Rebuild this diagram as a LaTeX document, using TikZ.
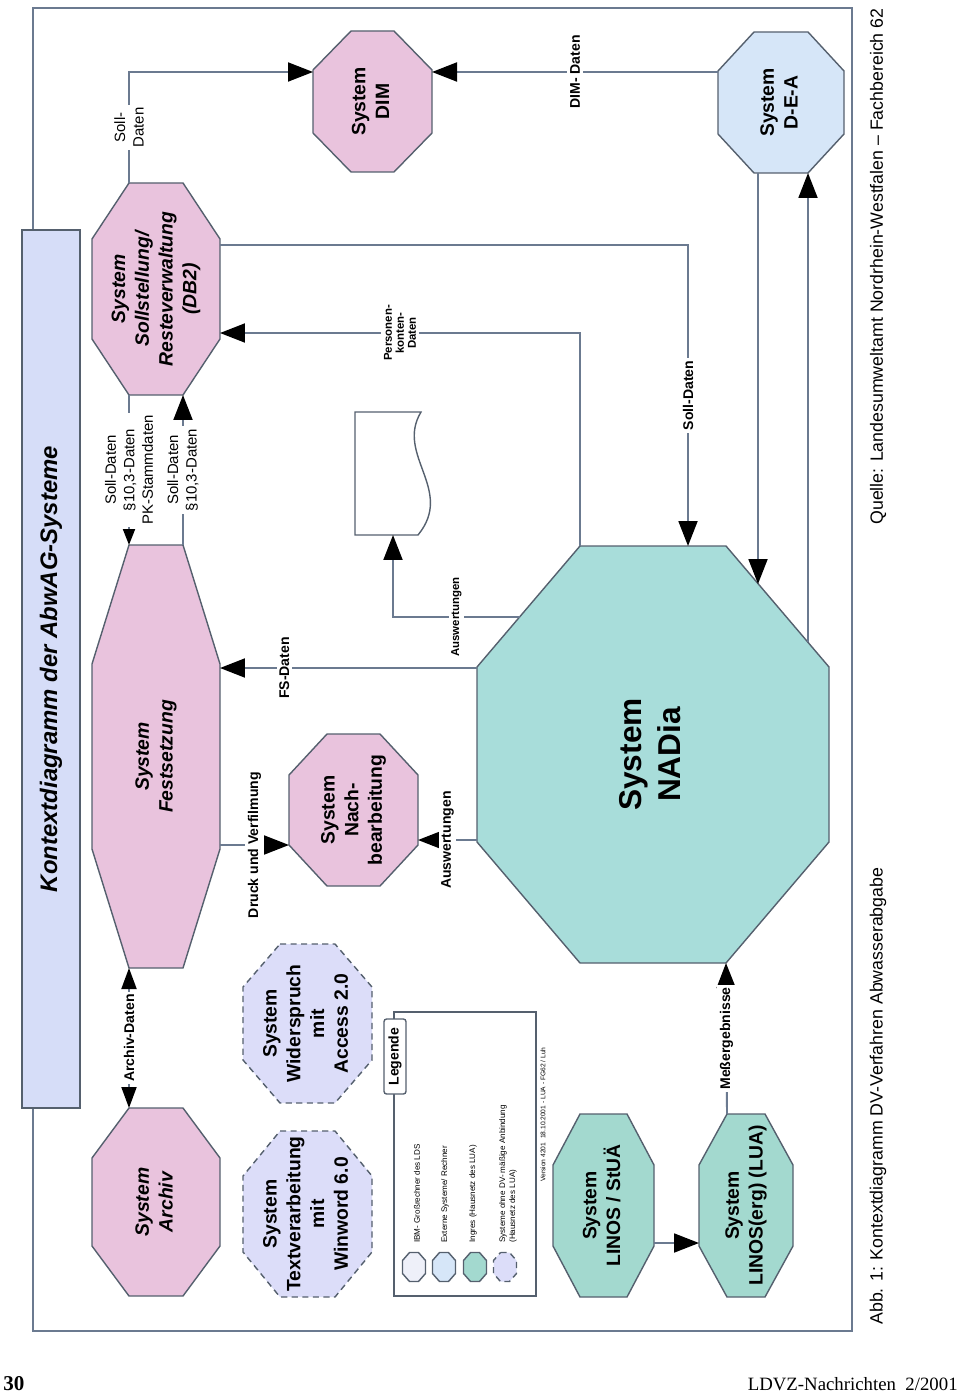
\documentclass[tikz,border=0pt]{standalone}
\usepackage{fontspec}
\setmainfont{Liberation Sans}
\newfontfamily\pageserif{Liberation Serif}
\usetikzlibrary{arrows.meta,backgrounds}

\definecolor{linec}{HTML}{6B7A90}
\definecolor{edgec}{HTML}{55606E}
\definecolor{pinkc}{HTML}{E9C3DD}
\definecolor{tealc}{HTML}{A8DDDA}
\definecolor{linosc}{HTML}{A3D9CF}
\definecolor{bluec}{HTML}{D6E6F8}
\definecolor{lilac}{HTML}{DCDDF9}
\definecolor{titlec}{HTML}{D6DDF8}
\definecolor{ibmc}{HTML}{EEF0F9}

\newcommand{\pxu}{0.02cm}
\newcommand{\sysname}[1]{\rotatebox{90}{\begin{tabular}{@{}c@{}}#1\end{tabular}}}
% octagon round a named area: node, chamfer x, chamfer y
\newcommand{\octa}[4][]{%
  \draw[#1] ([shift={(#3,0)}]#2.north west) -- ([shift={(-#3,0)}]#2.north east)
    -- ([shift={(0,#4)}]#2.north east) -- ([shift={(0,-#4)}]#2.south east)
    -- ([shift={(-#3,0)}]#2.south east) -- ([shift={(#3,0)}]#2.south west)
    -- ([shift={(0,-#4)}]#2.south west) -- ([shift={(0,#4)}]#2.north west) -- cycle;}

\tikzset{
  sysarea/.style 2 args={rectangle, inner sep=0pt, outer sep=0pt,
    minimum width=#1*\pxu, minimum height=#2*\pxu},
  sysfont/.style={font=\fontsize{11}{13.5}\selectfont\bfseries},
  sysit/.style={font=\fontsize{11}{13.5}\selectfont\bfseries\itshape},
  pinkfill/.style={fill=pinkc, draw=edgec, line width=0.8pt},
  tealfill/.style={fill=tealc, draw=edgec, line width=0.8pt},
  linosfill/.style={fill=linosc, draw=edgec, line width=0.8pt},
  bluefill/.style={fill=bluec, draw=edgec, line width=0.8pt},
  ibmfill/.style={fill=ibmc, draw=edgec, line width=0.8pt},
  lilacfill/.style={fill=lilac, draw=edgec, line width=0.8pt, dash pattern=on 3.5pt off 2.5pt},
  flow/.style={draw=linec, line width=1.1pt, -{Triangle[length=0.5cm, width=0.38cm, color=black]}},
  flowsmall/.style={draw=linec, line width=1.1pt, -{Triangle[length=0.32cm, width=0.24cm, color=black]}},
  flowboth/.style={draw=linec, line width=1.1pt,
    {Triangle[length=0.42cm, width=0.3cm, color=black]}-{Triangle[length=0.42cm, width=0.3cm, color=black]}},
  lbl/.style={fill=white, rotate=90, inner sep=1.5pt, align=center, font=\fontsize{8}{10}\selectfont\bfseries},
  lblthin/.style={lbl, font=\fontsize{8.5}{10.5}\selectfont},
  lblsmall/.style={lbl, font=\fontsize{6.5}{6.8}\selectfont\bfseries},
  legtxt/.style={rotate=90, anchor=west, inner sep=0pt, align=left, font=\fontsize{4.6}{5.6}\selectfont},
  caption/.style={rotate=90, anchor=west, inner sep=0pt, font=\fontsize{10.1}{12}\selectfont},
}

\begin{document}
\begin{tikzpicture}[x=0.02cm, y=-0.02cm]
\useasboundingbox (0,0) rectangle (960,1395);

% title bar
\node[sysarea={58}{878}, fill=titlec, draw=edgec, line width=0.8pt,
  font=\fontsize{13.6}{16}\selectfont\bfseries\itshape] (title) at (51,669)
  {\rotatebox{90}{Kontextdiagramm der AbwAG-Systeme}};

% systems
\node[sysarea={119}{141}, sysfont] (dim) at (372.5,101.5) {\sysname{System\\DIM}};
\node[sysarea={126}{141}, sysfont] (dea) at (781,102.5) {\sysname{System\\D-E-A}};
\node[sysarea={128}{212}, sysit] (db2) at (156,289) {\sysname{System\\Sollstellung/\\Resteverwaltung\\(DB2)}};
\node[sysarea={128}{423}, sysit] (fest) at (156,756.5) {\sysname{System\\Festsetzung}};
\node[sysarea={128}{188}, sysit] (archiv) at (156,1202) {\sysname{System\\Archiv}};
\node[sysarea={129}{152}, sysfont] (nach) at (353.5,810) {\sysname{System\\Nach-\\bearbeitung}};
\node[sysarea={129}{159}, sysfont] (wider) at (307.5,1023.5) {\sysname{System\\Widerspruch\\mit\\Access 2.0}};
\node[sysarea={129}{166}, sysfont] (textv) at (307.5,1214) {\sysname{System\\Textverarbeitung\\mit\\Winword 6.0}};
\node[sysarea={352}{417}, font=\fontsize{18}{22.5}\selectfont\bfseries] (nadia) at (653,754.5) {\sysname{System\\NADia}};
\node[sysarea={101}{183}, sysfont] (linos) at (603.5,1205.5) {\sysname{System\\LINOS / StUÄ}};
\node[sysarea={94}{183}, sysfont] (linoserg) at (746,1205.5) {\sysname{System\\LINOS(erg) (LUA)}};
\node[sysarea={70}{123}] (doku) at (390,473.5) {};

% legend
\node[sysarea={142}{284}, draw=edgec, line width=0.8pt] (legbox) at (465,1154) {};
\node[draw=edgec, fill=white, rounded corners=1.5pt, line width=0.8pt, inner sep=0pt,
  minimum width=22*\pxu, minimum height=75*\pxu, font=\fontsize{8}{9}\selectfont\bfseries]
  (legtag) at (395,1056.5) {\rotatebox{90}{Legende}};
\node[sysarea={23}{29}] (leg1) at (414,1267) {};
\node[sysarea={23}{29}] (leg2) at (444,1267) {};
\node[sysarea={23}{29}] (leg3) at (475,1267) {};
\node[sysarea={23}{29}] (leg4) at (505,1267) {};
\node[legtxt] (legt1) at (417,1243) {IBM- Großrechner des LDS};
\node[legtxt] (legt2) at (445,1243) {Externe Systeme/ Rechner};
\node[legtxt] (legt3) at (473,1243) {Ingres (Hausnetz des LUA)};
\node[legtxt] (legt4) at (508,1243) {Systeme ohne DV- mäßige Anbindung\\(Hausnetz des LUA)};
\node[legtxt, font=\fontsize{3.8}{4}\selectfont] (version) at (543,1182)
  {Version 4201 \ 18.10.2001 - LUA - FG62 / Luh};

% shapes behind the texts
\begin{scope}[on background layer]
  \draw[draw=linec, line width=1.1pt] (33,8) rectangle (852,1331);
  \octa[pinkfill]{dim}{38}{39}
  \octa[bluefill]{dea}{36}{39}
  \octa[pinkfill]{db2}{37}{56}
  \octa[pinkfill]{fest}{37}{119}
  \octa[pinkfill]{archiv}{37}{50}
  \octa[pinkfill]{nach}{38}{41}
  \octa[lilacfill]{wider}{37}{43}
  \octa[lilacfill]{textv}{37}{45}
  \octa[tealfill]{nadia}{103}{121}
  \octa[linosfill]{linos}{27}{51}
  \octa[linosfill]{linoserg}{28}{51}
  \octa[ibmfill]{leg1}{7}{8}
  \octa[bluefill]{leg2}{7}{8}
  \octa[linosfill]{leg3}{7}{8}
  \octa[lilacfill]{leg4}{7}{8}
\end{scope}

% printout
\draw[draw=edgec, line width=0.8pt] (doku.north west) -- ([shift={(66,0)}]doku.north west)
  .. controls ([shift={(40,43)}]doku.north west) and ([shift={(100,78)}]doku.north west) ..
  ([shift={(63,0)}]doku.south west) -- (doku.south west) -- cycle;

% data flows
\draw[flow] ([shift={(37,0)}]db2.north west) |- node[lblthin,pos=0.25]{Soll-\\Daten} ([shift={(0,41)}]dim.north west);
\draw[flow] ([shift={(0,40)}]dea.north west) -- node[lbl]{DIM- Daten} ([shift={(0,41)}]dim.north east);
\draw[flow] ([shift={(0,62)}]db2.north east) -| node[lbl,pos=0.75]{Soll-Daten} ([shift={(211,0)}]nadia.north west);
\draw[flow] ([shift={(103,0)}]nadia.north west) |- node[lblsmall,pos=0.75]{Personen-\\konten-\\Daten} ([shift={(0,150)}]db2.north east);
\draw[flow] ([shift={(0,122)}]nadia.north west) -- node[lbl,pos=0.75]{FS-Daten} ([shift={(0,123)}]fest.north east);
\draw[flow] ([shift={(43,71)}]nadia.north west) -| node[lblsmall,pos=0.25]{Auswertungen} ([shift={(38,0)}]doku.south west);
\draw[flow] ([shift={(0,-123)}]nadia.south west) -- node[lbl]{Auswertungen} ([shift={(0,106)}]nach.north east);
\draw[flow] ([shift={(0,-123)}]fest.south east) -- node[lbl]{Druck und Verfilmung} ([shift={(0,111)}]nach.north west);
\draw[flowsmall] ([shift={(37,0)}]db2.south west) -- node[lblthin]{Soll-Daten\\§10,3-Daten\\PK-Stammdaten} ([shift={(37,0)}]fest.north west);
\draw[flow] ([shift={(-37,0)}]fest.north east) -- node[lblthin]{Soll-Daten\\§10,3-Daten} ([shift={(-37,0)}]db2.south east);
\draw[flowboth] ([shift={(37,0)}]archiv.north west) -- node[lbl]{Archiv-Daten} ([shift={(37,0)}]fest.south west);
\draw[flow] ([shift={(0,-54)}]linos.south east) -- ([shift={(0,-54)}]linoserg.south west);
\draw[flow] ([shift={(28,0)}]linoserg.north west) -- node[lbl]{Meßergebnisse} ([shift={(-103,0)}]nadia.south east);
\draw[flow] ([shift={(40,0)}]dea.south west) -- ([shift={(-71,38)}]nadia.north east);
\draw[flow] ([shift={(-21,96)}]nadia.north east) -- ([shift={(-36,0)}]dea.south east);

% captions and page line
\node[caption] (quelle) at (878,525) {Quelle: Landesumweltamt Nordrhein-Westfalen – Fachbereich 62};
\node[caption] (abb) at (878,1325) {Abb. 1: Kontextdiagramm DV-Verfahren Abwasserabgabe};
\node[anchor=west, inner sep=0pt, font=\pageserif\fontsize{12}{14}\selectfont\bfseries] (pagenr) at (3,1384) {30};
\node[anchor=east, inner sep=0pt, font=\pageserif\fontsize{10.7}{13}\selectfont] (journal) at (958,1384) {LDVZ-Nachrichten~~2/2001};
\end{tikzpicture}
\end{document}
